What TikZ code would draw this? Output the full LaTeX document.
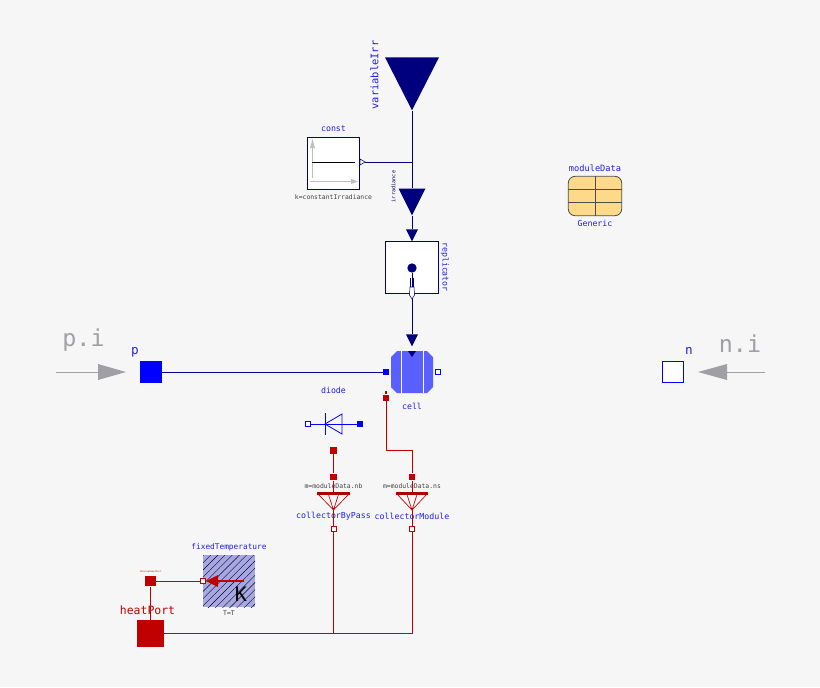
\documentclass[tikz,border=0pt]{standalone}
\usepackage{fontspec}
\setmainfont{DejaVu Sans Mono}
\usetikzlibrary{shapes.geometric, patterns.meta, positioning}
\definecolor{bgGray}{HTML}{F6F6F6}
\definecolor{mo_navy}{HTML}{00007F}
\definecolor{mo_blue}{HTML}{0000FF}
\definecolor{mo_label}{HTML}{2020E0}
\definecolor{mo_red}{HTML}{C00000}
\definecolor{mo_cell}{HTML}{5A5FFF}
\definecolor{mo_hatch}{HTML}{A8A8E0}
\definecolor{mo_data}{HTML}{FFD98A}
\definecolor{mo_gray}{HTML}{A0A0A4}
\tikzset{
    tri/.style={isosceles triangle, isosceles triangle stretches, shape border rotate=270, draw=none, fill=mo_navy, inner sep=0pt, anchor=apex},
    box/.style={rectangle, draw=mo_navy, fill=white, line width=0.6pt, inner sep=0pt},
    portFull/.style={rectangle, fill=#1, draw=none, inner sep=0pt, minimum size=4.5pt},
    portOpen/.style={rectangle, fill=white, draw=#1, line width=0.5pt, inner sep=0pt, minimum size=4pt},
    lab/.style={text=mo_label, font=\fontsize{6.2}{7}\selectfont, inner sep=0pt},
    sublab/.style={text=black!75, font=\fontsize{4.8}{5}\selectfont, inner sep=0pt},
    wireNavy/.style={draw=mo_navy, line width=0.75pt},
    wireBlue/.style={draw=mo_navy!80!mo_blue, line width=0.6pt},
    wireRed/.style={draw=mo_red, line width=0.6pt},
    flowGray/.style={draw=mo_gray, line width=0.6pt}
}
\begin{document}
\begin{tikzpicture}[x=0.75pt, y=-0.75pt]
        \fill[bgGray] (0,0) rectangle (820,687);
        \useasboundingbox (0,0) rectangle (820,687);

        % Irradiance chain
        \node (variableIrr) [tri, minimum width=40.5pt, minimum height=39.75pt] at (412,111) {};
        \node (variableIrr_label) [lab, rotate=90, font=\fontsize{7.8}{8}\selectfont] at (374.5,75) {variableIrr};
        \node (const) [box, minimum size=39pt] at (333.5,163) {};
        \node (const_label) [lab] at (333.5,129) {const};
        \node (const_value) [sublab] at (333.5,197) {k=constantIrradiance};
        \coordinate (const_out) at (365,162.5);
        \coordinate (irr_join) at (412,162.5);
        \node (irradiance) [tri, minimum width=20pt, minimum height=20pt] at (412,216) {};
        \node (irradiance_label) [sublab, rotate=90, font=\fontsize{3.9}{4}\selectfont, text=mo_navy!70!black] at (393.5,186.5) {irradiance};
        \node (replicator_in) [tri, minimum width=9pt, minimum height=9pt] at (412,242) {};
        \node (replicator) [box, minimum size=39.5pt] at (412,267.5) {};
        \node (replicator_label) [lab, rotate=-90] at (445,267) {replicator};
        \node (replicator_dot) [circle, fill=mo_navy, inner sep=0pt, minimum size=7pt] at (412,268) {};
        \coordinate (replicator_out) at (412,300);
        \node (cell_in) [tri, minimum width=9pt, minimum height=9pt] at (412,347) {};

        % Cell
        \fill[mo_cell] (397,351) -- (427,351) -- (433,357) -- (433,387) -- (427,393) -- (397,393) -- (391,387) -- (391,357) -- cycle;
        \draw[white, line width=0.7pt] (401,351) -- (401,393) (423,351) -- (423,393);
        \fill[mo_navy] (408,351) -- (416,351) -- (412,357) -- cycle;
        \node (cell_label) [lab] at (412,406) {cell};
        \node (cell_p) [portFull=mo_blue] at (386,372) {};
        \node (cell_n) [portOpen=mo_blue] at (437.5,372) {};
        \node (cell_heat) [portFull=mo_red] at (386,398) {};
        \node (cell_heat_tag) [portFull=mo_red, minimum size=2pt] at (386,392.5) {};

        % Pins
        \node (p) [rectangle, fill=mo_blue, inner sep=0pt, minimum size=16.5pt] at (151,372) {};
        \node (p_label) [lab, font=\fontsize{9.5}{10}\selectfont] at (135,352) {p};
        \node (n) [box, draw=mo_blue, fill=white, minimum size=15.5pt] at (673,372) {};
        \node (n_label) [lab, font=\fontsize{9.5}{10}\selectfont] at (689,351) {n};
        \node (pi_label) [text=mo_gray, inner sep=0pt, font=\fontsize{17.5}{18}\selectfont] at (83.5,340) {p.i};
        \node (ni_label) [text=mo_gray, inner sep=0pt, font=\fontsize{17.5}{18}\selectfont] at (740,344) {n.i};
        \coordinate (pi_start) at (56,372);
        \coordinate (pi_tail) at (98,372);
        \coordinate (ni_start) at (765,372);
        \coordinate (ni_tail) at (727,372);
        \fill[mo_gray] (98,364) -- (126,372) -- (98,380) -- cycle;
        \fill[mo_gray] (727,364) -- (698,372) -- (727,380) -- cycle;

        % Module data
        \node (moduleData) [rectangle, rounded corners=5pt, draw=black!70, fill=mo_data, line width=0.6pt, inner sep=0pt, minimum width=40pt, minimum height=29.5pt] at (595,196) {};
        \draw[black!70, line width=0.6pt] (595,176) -- (595,216) (568,189) -- (622,189) (568,202) -- (622,202);
        \node (moduleData_label) [lab, font=\fontsize{6.5}{7}\selectfont] at (595,168.5) {moduleData};
        \node (moduleData_type) [lab] at (595,223) {Generic};

        % Diode
        \node (diode_label) [lab] at (333.5,390) {diode};
        \node (diode_n) [portOpen=mo_blue] at (307.5,424) {};
        \node (diode_p) [portFull=mo_blue] at (360,424) {};
        \draw[wireBlue, mo_blue] (325,413) -- (325,435);
        \draw[wireBlue, mo_blue] (325,424) -- (342,414) -- (342,434) -- cycle;

        % Collectors
        \node (bypass_top) [portFull=mo_red, minimum size=5pt] at (333.5,450.5) {};
        \node (bypass_in) [portFull=mo_red, minimum size=5pt] at (333.5,477) {};
        \node (bypass_bar) [rectangle, fill=mo_red!90!black, inner sep=0pt, minimum width=24.5pt, minimum height=2.5pt] at (333.5,493.5) {};
        \node (bypass_out) [portOpen=mo_red] at (333.5,529) {};
        \node (bypass_value) [sublab] at (333.5,486) {m=moduleData.nb};
        \node (bypass_label) [lab] at (333.5,516) {collectorByPass};
        \draw[mo_red, line width=0.5pt] (317,493) -- (333.5,510) -- (350,493) (328,493) -- (333.5,510) -- (339,493);

        \node (module_in) [portFull=mo_red, minimum size=5pt] at (412,477) {};
        \node (module_bar) [rectangle, fill=mo_red!90!black, inner sep=0pt, minimum width=24.5pt, minimum height=2.5pt] at (412,493.5) {};
        \node (module_out) [portOpen=mo_red] at (412,529) {};
        \node (module_value) [sublab] at (412,486) {m=moduleData.ns};
        \node (module_label) [lab] at (412,516) {collectorModule};
        \draw[mo_red, line width=0.5pt] (396,493) -- (412,510) -- (428,493) (406.5,493) -- (412,510) -- (417.5,493);

        % Heat port
        \node (fixedTemperature) [rectangle, inner sep=0pt, minimum size=39pt, preaction={fill=mo_hatch}, pattern={Lines[angle=45, distance=3.8pt, line width=0.3pt]}, pattern color=black!60!mo_navy] at (229,581) {};
        \node (fixedTemperature_label) [lab, font=\fontsize{5.85}{7}\selectfont] at (229,547.5) {fixedTemperature};
        \node (fixedTemperature_value) [sublab] at (229,613.5) {T=T};
        \node (K_label) [inner sep=0pt, font=\fontsize{15}{16}\selectfont] at (241,594) {K};
        \coordinate (temp_start) at (244,581);
        \node (temp_out) [portOpen=mo_red, minimum size=3.5pt] at (203,581) {};
        \fill[mo_red] (206,581) -- (218,575) -- (218,587) -- cycle;
        \node (internal) [portFull=mo_red, minimum size=8pt] at (150.5,581) {};
        \node (internal_label) [text=mo_red, inner sep=0pt, font=\fontsize{1.7}{2}\selectfont] at (150.5,572) {internalHeatPort};
        \node (heatPort) [rectangle, fill=mo_red, inner sep=0pt, minimum size=20pt] at (150.5,633.5) {};
        \node (heatPort_label) [text=mo_red, inner sep=0pt, font=\fontsize{8.6}{9}\selectfont] at (147.5,610) {heatPort};
        \coordinate (bypass_join) at (333.5,633.5);
        \coordinate (module_join) at (412,633.5);

        % Connect blocks
        \draw[wireNavy] (variableIrr.apex) -- (irradiance.north);
        \draw[wireNavy] (const_out) -- (irr_join);
        \draw[wireNavy] (irradiance.apex) -- (replicator_in.north);
        \draw[wireNavy] (replicator_dot) -- (replicator_out);
        \draw[wireNavy] (replicator_out) -- (cell_in.north);
        \draw[wireBlue] (p) -- (cell_p);
        \draw[flowGray] (pi_start) -- (pi_tail);
        \draw[flowGray] (ni_start) -- (ni_tail);
        \draw[wireBlue, mo_blue] (diode_n) -- (diode_p);

        % Thermal wires
        \draw[wireRed] (cell_heat) -- (386,450) -- (412,450) -- (module_in);
        \draw[wireRed] (bypass_top) -- (bypass_in);
        \draw[wireRed] (bypass_in) -- (bypass_bar);
        \draw[wireRed] (module_in) -- (module_bar);
        \draw[wireRed] (333.5,510) -- (bypass_out);
        \draw[wireRed] (412,510) -- (module_out);
        \draw[wireRed] (bypass_out) -- (bypass_join);
        \draw[wireRed] (module_out) -- (module_join);
        \draw[wireRed] (heatPort) -- (module_join);
        \draw[wireRed] (internal) -- (internal |- heatPort.north);
        \draw[wireRed] (internal) -- (temp_out);
        \draw[wireRed, line width=1.2pt] (temp_start) -- (218,581);

        % Replicator and source details
        \draw[mo_navy, line width=0.4pt] (410.5,278) -- (410.5,287) (413.5,278) -- (413.5,287);
        \draw[mo_navy, fill=white, line width=0.4pt] (410,287) -- (414,287) -- (414.5,295) -- (412,299) -- (409.5,295) -- cycle;
        \draw[mo_navy, fill=white, line width=0.4pt] (360,159) -- (365,162) -- (360,165) -- cycle;
        \draw[black!25, line width=1pt] (312.5,178) -- (312.5,142) (310,181.5) -- (357,181.5);
        \fill[black!25] (310,148) -- (315,148) -- (312.5,139) -- cycle;
        \fill[black!25] (351,179) -- (351,184) -- (358,181.5) -- cycle;
        \draw[black, line width=0.75pt] (312,162.5) -- (355,162.5);
    \end{tikzpicture}
\end{document}
